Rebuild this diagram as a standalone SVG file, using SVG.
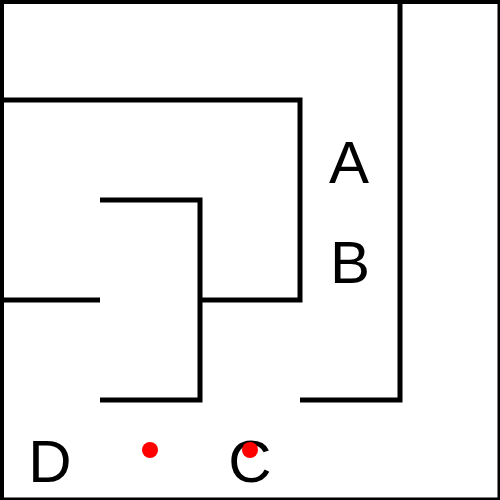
<svg xmlns="http://www.w3.org/2000/svg" width="500" height="500" viewBox="0 0 500 500">
<style>
.w{fill:none;stroke:#000;stroke-width:5;stroke-linejoin:miter;stroke-linecap:butt}
.t{font-family:"Liberation Sans",Arial,sans-serif;font-size:60px;fill:#000;text-anchor:middle}
.d{fill:#ff0000}
</style>
<rect x="0" y="0" width="500" height="500" fill="#fff"/>
<g id="walls">
<line class="w" x1="0" y1="1.5" x2="500" y2="1.5"/>
<line class="w" x1="1.5" y1="0" x2="1.5" y2="500"/>
<line class="w" x1="500" y1="0" x2="500" y2="500"/>
<line class="w" x1="0" y1="500" x2="500" y2="500"/>
<polyline class="w" points="0,100 300,100 300,300 200,300"/>
<polyline class="w" points="100,200 200,200 200,400 100,400"/>
<line class="w" x1="0" y1="300" x2="100" y2="300"/>
<polyline class="w" points="400,0 400,400 300,400"/>
</g>
<g id="labels">
<text class="t" x="349" y="183">A</text>
<text class="t" x="350" y="283">B</text>
<text class="t" x="250" y="482">C</text>
<text class="t" x="50" y="482">D</text>
</g>
<g id="dots">
<circle class="d" cx="150" cy="450" r="8"/>
<circle class="d" cx="250" cy="450" r="8"/>
</g>
</svg>
